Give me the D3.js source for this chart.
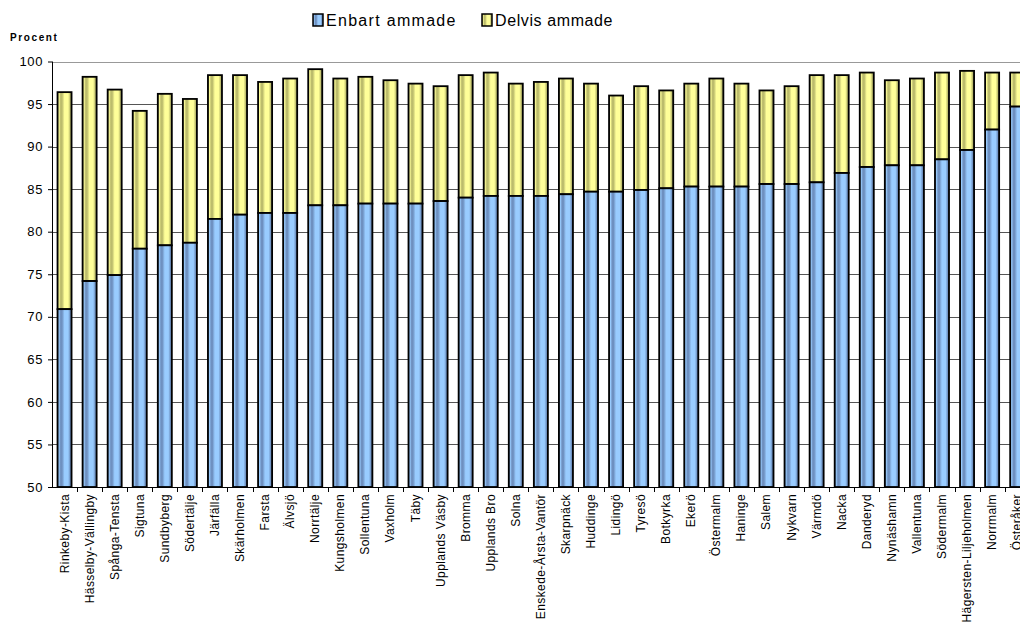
<!DOCTYPE html>
<html>
<head>
<meta charset="utf-8">
<script src="https://cdn.jsdelivr.net/npm/d3@7"></script>
<style>
  body { margin: 0; background: #fff; }
  svg { display: block; font-family: "Liberation Sans", Arial, sans-serif; }
</style>
</head>
<body>
<div id="chart"></div>
<script>
// Amning per område, procent
const categories = ['Rinkeby-Kista','Hässelby-Vällingby','Spånga-Tensta','Sigtuna','Sundbyberg','Södertälje',
    'Järfälla','Skärholmen','Farsta','Älvsjö','Norrtälje','Kungsholmen','Sollentuna','Vaxholm','Täby',
    'Upplands Väsby','Bromma','Upplands Bro','Solna','Enskede-Årsta-Vantör','Skarpnäck','Huddinge','Lidingö',
    'Tyresö','Botkyrka','Ekerö','Östermalm','Haninge','Salem','Nykvarn','Värmdö','Nacka','Danderyd',
    'Nynäshamn','Vallentuna','Södermalm','Hägersten-Liljeholmen','Norrmalm','Österåker'];
// Enbart ammade
const enbart = [70.9,74.2,74.9,78.0,78.4,78.7,81.5,82.0,82.2,82.2,83.1,83.1,83.3,83.3,83.3,
    83.6,84.0,84.2,84.2,84.2,84.4,84.7,84.7,84.9,85.1,85.3,85.3,85.3,85.6,85.6,85.8,86.9,87.6,
    87.8,87.8,88.5,89.6,92.0,94.7];
// Enbart + delvis ammade (toppen av stapeln)
const total = [96.4,98.2,96.7,94.2,96.2,95.6,98.4,98.4,97.6,98.0,99.1,98.0,98.2,97.8,97.4,
    97.1,98.4,98.7,97.4,97.6,98.0,97.4,96.0,97.1,96.6,97.4,98.0,97.4,96.6,97.1,98.4,98.4,98.7,
    97.8,98.0,98.7,98.9,98.7,98.7];
const yTicks = [50,55,60,65,70,75,80,85,90,95,100];
const seriesNames = ['Enbart ammade','Delvis ammade'];

const W = 1020, H = 623;
const mLeft = 52, mTop = 61.5, mBottom = 487;
const step = 25.07;

const svg = d3.select('#chart').append('svg')
    .attr('width', W).attr('height', H);

// Gradients, Excel-ish shaded bars
const defs = svg.append('defs');
function grad(id, dark, mid, light){
    let g = defs.append('linearGradient').attr('id', id)
        .attr('x1','0').attr('x2','1').attr('y1','0').attr('y2','0');
    [[0,dark],[0.1,light],[0.22,mid],[0.32,mid],[0.5,light],[0.75,light],[0.9,mid],[1,dark]]
        .forEach(s=>g.append('stop').attr('offset',s[0]).attr('stop-color',s[1]));
}
grad('gBlue','#3f5f8c','#6e90c0','#99ccff');
grad('gYellow','#84844a','#bcbc6c','#ffff99');

const x = d3.scaleBand()
    .domain(categories)
    .range([mLeft, mLeft + step*categories.length])
    .paddingInner(0.44)
    .paddingOuter(0.22);

const y = d3.scaleLinear().domain([50,100]).range([mBottom, mTop]);

// grid
svg.append('g').selectAll('line')
    .data(yTicks.filter(d=>d>50)).enter()
    .append('line')
    .attr('x1', mLeft).attr('x2', W)
    .attr('y1', d=>Math.round(y(d))+0.5).attr('y2', d=>Math.round(y(d))+0.5)
    .attr('stroke', d=>d==100?'#999':'#555')
    .attr('stroke-width',1);

// bars
const rows = categories.map((c,i)=>({name:c, a:enbart[i], t:total[i]}));
const bars = svg.append('g').selectAll('g')
    .data(rows).enter().append('g');

bars.append('rect')
    .attr('x', d=>x(d.name))
    .attr('width', x.bandwidth())
    .attr('y', d=>y(d.t))
    .attr('height', d=>y(d.a)-y(d.t))
    .attr('fill','url(#gYellow)')
    .attr('stroke','#000')
    .attr('stroke-width',1.8);

bars.append('rect')
    .attr('x', d=>x(d.name))
    .attr('width', x.bandwidth())
    .attr('y', d=>y(d.a))
    .attr('height', d=>y(50)-y(d.a))
    .attr('fill','url(#gBlue)')
    .attr('stroke','#000')
    .attr('stroke-width',1.8);

// y axis
const yAxis = svg.append('g')
    .attr('transform', `translate(${mLeft},0)`)
    .call(d3.axisLeft(y).tickValues(yTicks).tickSize(4).tickPadding(5).tickFormat(d3.format('d')));
yAxis.select('.domain').attr('stroke','#000').attr('d', `M0.5,${mTop}V${mBottom}`);
yAxis.selectAll('.tick line').attr('stroke','#000');
yAxis.selectAll('text')
    .attr('font-size', 13).attr('letter-spacing', 0.6)
    .attr('font-family','"Liberation Sans", Arial, sans-serif')
    .attr('fill','#000');

// x axis
const xAxis = svg.append('g')
    .attr('transform', `translate(0,${mBottom})`);
xAxis.append('line')
    .attr('x1', mLeft).attr('x2', W)
    .attr('y1', 0.5).attr('y2', 0.5)
    .attr('stroke','#000');
xAxis.selectAll('.tk')
    .data(categories.map((c,i)=>mLeft + step*(i+1))).enter()
    .append('line').attr('class','tk')
    .attr('x1', d=>Math.round(d)+0.5).attr('x2', d=>Math.round(d)+0.5)
    .attr('y1', 0).attr('y2', 5)
    .attr('stroke','#000');
xAxis.selectAll('text')
    .data(categories).enter()
    .append('text')
    .attr('transform', d=>`translate(${x(d)+x.bandwidth()/2+4},7) rotate(-90)`)
    .attr('text-anchor','end')
    .attr('font-size', 12)
    .attr('letter-spacing', 0.4)
    .text(d=>d);

// y title
svg.append('text')
    .attr('x', 10).attr('y', 41)
    .attr('font-size', 10).attr('font-weight','bold')
    .attr('letter-spacing', 1.6)
    .text('Procent');

// legend
const legend = svg.append('g').selectAll('g')
    .data(seriesNames).enter().append('g')
    .attr('transform', (d,i)=>`translate(${i==0?313:482},14)`);
legend.append('rect')
    .attr('width', 10).attr('height', 12)
    .attr('fill', (d,i)=>i==0?'url(#gBlue)':'url(#gYellow)')
    .attr('stroke','#000').attr('stroke-width',1.5);
legend.append('text')
    .attr('x', 13).attr('y', 12)
    .attr('font-size', 16)
    .attr('letter-spacing', (d,i)=>i==0?1.3:0.6)
    .text(d=>d);
</script>
</body>
</html>
